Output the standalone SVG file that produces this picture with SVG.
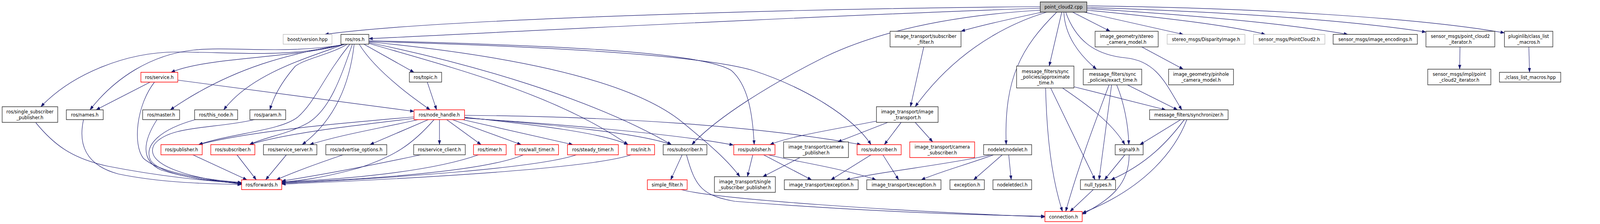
<svg xmlns="http://www.w3.org/2000/svg" width="4359" height="573" viewBox="0 0 4359 573">
<defs>
<marker id="arr" markerUnits="userSpaceOnUse" markerWidth="11" markerHeight="8" viewBox="0 0 11 8" refX="11" refY="4" orient="auto">
<path d="M0,0 L11,4 L0,8 z" fill="#191970" stroke="#191970" stroke-width="0.5"/>
</marker>
</defs>
<style>
.bg{fill:#fff}
rect{fill:#fff;stroke-width:1.5}
.n rect{stroke:#333}
.r rect{stroke:#f00}
.g rect{stroke:#bfbfbf}
.root rect{fill:#bfbfbf;stroke:#222}
text{font-family:"DejaVu Sans","Liberation Sans",sans-serif;font-size:12.5px;fill:#000;text-anchor:middle}
.e path{fill:none;stroke:#191970;stroke-width:1.2;marker-end:url(#arr)}
</style>
<rect class="bg" x="0" y="0" width="4359" height="573" style="stroke:none"/>
<g id="diagram" transform="matrix(0.91766 0 0 1 0 0)">
<g id="edges" class="e">
<path d="M2902,17 C2200,22 1200,50 906,88"/>
<path d="M2902,21 C2300,40 1500,78 1029,99"/>
<path d="M2902,26 C2650,40 2450,80 2300,146 C2150,215 2000,300 1930,370"/>
<path d="M2908,31 C2820,48 2740,64 2681,80"/>
<path d="M2920,31 C2780,70 2650,150 2553,273"/>
<path d="M2948,31 C2850,120 2800,200 2807,370"/>
<path d="M2962,31 L2927,169"/>
<path d="M2968,31 C2970,90 3010,140 3059,177"/>
<path d="M2973,31 C3000,100 3050,140 3140,148 C3230,156 3255,220 3297,281"/>
<path d="M2992,31 L3097,80"/>
<path d="M3024,31 L3301,88"/>
<path d="M3032,26 C3250,45 3430,65 3530,88"/>
<path d="M3032,22 C3350,40 3600,62 3760,88"/>
<path d="M3032,19 C3400,30 3750,50 3978,82"/>
<path d="M3032,15 C3500,20 3950,45 4197,84"/>
<path d="M962,113 C800,150 650,133 493,133 C350,133 200,190 114,273"/>
<path d="M966,113 C800,140 650,118 540,128 C420,140 320,200 251,281"/>
<path d="M962,113 C820,150 580,145 477,185"/>
<path d="M965,113 C820,135 650,170 475,281"/>
<path d="M962,113 C850,150 700,190 624,281"/>
<path d="M969,113 C920,140 850,150 823,170 C795,200 765,240 753,281"/>
<path d="M976,113 C900,200 880,260 830,300 C780,335 650,340 554,370"/>
<path d="M983,113 C950,200 920,280 860,314 C800,345 740,350 696,370"/>
<path d="M988,113 C975,220 930,310 843,370"/>
<path d="M1015,113 L1155,185"/>
<path d="M1002,113 C1040,170 1120,230 1200,281"/>
<path d="M1029,111 C1250,170 1550,240 1752,370"/>
<path d="M1029,109 C1300,160 1650,250 1873,370"/>
<path d="M1029,107 C1400,140 1750,200 1900,310 C1980,370 2030,410 2064,452"/>
<path d="M1029,104 C1500,115 1950,130 2040,180 C2090,220 2100,300 2104,370"/>
<path d="M1029,106 C1500,118 1950,140 2100,180 C2250,225 2380,300 2430,370"/>
<path d="M1155,299 C950,315 700,335 554,370"/>
<path d="M1155,303 C1000,320 800,340 696,370"/>
<path d="M1167,306 C1050,330 950,345 864,370"/>
<path d="M1195,306 L1032,370"/>
<path d="M1211,306 C1150,370 1100,400 1000,430 C900,455 840,462 786,466"/>
<path d="M1226,306 L1226,370"/>
<path d="M1246,306 L1342,370"/>
<path d="M1262,306 L1454,370"/>
<path d="M1290,306 L1598,370"/>
<path d="M1296,300 C1500,320 1680,340 1752,370"/>
<path d="M1296,301 C1550,320 1780,340 1873,370"/>
<path d="M1296,302 C1600,320 1900,345 2046,371"/>
<path d="M1296,295 C1700,298 2100,320 2402,370"/>
<path d="M419,210 L268,281"/>
<path d="M496,205 L1155,285"/>
<path d="M431,210 C380,270 370,370 400,405 C450,445 580,460 674,467"/>
<path d="M1192,210 L1218,281"/>
<path d="M100,314 C150,370 200,405 300,425 C450,452 570,462 674,469"/>
<path d="M233,306 C220,360 230,420 330,445 C450,468 580,470 674,472"/>
<path d="M438,306 C400,360 390,410 450,435 C530,458 600,463 674,468"/>
<path d="M545,306 C450,330 400,370 420,410 C450,450 580,462 674,470"/>
<path d="M710,306 C600,330 470,320 430,370 C400,420 520,455 674,471"/>
<path d="M538,396 L689,460"/>
<path d="M661,396 L715,460"/>
<path d="M799,396 L741,460"/>
<path d="M957,396 C880,420 820,440 771,460"/>
<path d="M1174,396 C1000,430 880,450 786,463"/>
<path d="M1335,396 C1200,440 950,460 786,465"/>
<path d="M1460,396 C1350,440 1000,460 786,467"/>
<path d="M1608,396 C1500,430 1100,455 786,469"/>
<path d="M1761,396 C1650,430 1200,455 786,471"/>
<path d="M1903,396 L1871,460"/>
<path d="M1915,396 C1940,480 1960,500 2050,515 C2400,540 2700,550 2915,553"/>
<path d="M1900,485 C2000,510 2500,540 2915,555"/>
<path d="M2577,120 L2540,273"/>
<path d="M2445,310 C2300,335 2200,350 2148,370"/>
<path d="M2477,313 L2337,363"/>
<path d="M2514,313 L2467,370"/>
<path d="M2553,313 L2602,363"/>
<path d="M2232,403 L2128,452"/>
<path d="M2100,396 L2085,452"/>
<path d="M2130,396 L2264,460"/>
<path d="M2143,396 C2200,410 2350,430 2444,460"/>
<path d="M2430,396 L2318,460"/>
<path d="M2463,396 L2507,460"/>
<path d="M2765,396 C2650,420 2450,440 2360,460"/>
<path d="M2772,396 C2700,420 2620,440 2570,460"/>
<path d="M2796,396 L2716,460"/>
<path d="M2814,396 L2821,460"/>
<path d="M2996,222 L3252,281"/>
<path d="M2964,225 C3020,260 3100,310 3138,370"/>
<path d="M2931,225 L3055,460"/>
<path d="M2917,225 C2920,350 2935,460 2964,541"/>
<path d="M3145,217 L3285,281"/>
<path d="M3115,217 C3135,260 3148,320 3149,370"/>
<path d="M3101,217 L3066,460"/>
<path d="M3094,217 C3060,300 3010,420 2973,541"/>
<path d="M3185,120 L3301,177"/>
<path d="M3294,306 L3180,370"/>
<path d="M3304,306 C3260,360 3200,420 3099,460"/>
<path d="M3311,306 C3280,380 3200,480 3019,545"/>
<path d="M3138,396 L3081,460"/>
<path d="M3150,396 C3150,470 3100,510 3019,548"/>
<path d="M3050,485 L2985,541"/>
<path d="M4073,120 L4072,177"/>
<path d="M4265,120 L4267,185"/>
</g>
<g id="n0" class="root"><rect x="2902" y="5" width="130" height="26"/><text x="2967" y="22.5">point_cloud2.cpp</text></g>
<g id="n1" class="g"><rect x="790" y="88" width="136" height="25"/><text x="858" y="105">boost/version.hpp</text></g>
<g id="n2" class="n"><rect x="951" y="88" width="78" height="25"/><text x="990" y="105">ros/ros.h</text></g>
<g id="n3" class="n"><rect x="6" y="273" width="155" height="40"/><text x="83.5" y="290">ros/single_subscriber</text><text x="83.5" y="305">_publisher.h</text></g>
<g id="n4" class="n"><rect x="185" y="281" width="103" height="25"/><text x="236.5" y="298">ros/names.h</text></g>
<g id="n5" class="r"><rect x="393" y="185" width="103" height="25"/><text x="444.5" y="202">ros/service.h</text></g>
<g id="n6" class="n"><rect x="398" y="281" width="103" height="25"/><text x="449.5" y="298">ros/master.h</text></g>
<g id="n7" class="n"><rect x="543" y="281" width="120" height="25"/><text x="603" y="298">ros/this_node.h</text></g>
<g id="n8" class="n"><rect x="697" y="281" width="100" height="25"/><text x="747" y="298">ros/param.h</text></g>
<g id="n9" class="r"><rect x="449" y="370" width="115" height="26"/><text x="506.5" y="387.5">ros/publisher.h</text></g>
<g id="n10" class="r"><rect x="588" y="370" width="123" height="26"/><text x="649.5" y="387.5">ros/subscriber.h</text></g>
<g id="n11" class="r"><rect x="674" y="460" width="112" height="25"/><text x="730" y="477">ros/forwards.h</text></g>
<g id="n12" class="n"><rect x="1142" y="185" width="90" height="25"/><text x="1187" y="202">ros/topic.h</text></g>
<g id="n13" class="r"><rect x="1155" y="281" width="141" height="25"/><text x="1225.5" y="298">ros/node_handle.h</text></g>
<g id="n14" class="n"><rect x="735" y="370" width="149" height="26"/><text x="809.5" y="387.5">ros/service_server.h</text></g>
<g id="n15" class="n"><rect x="909" y="370" width="170" height="26"/><text x="994" y="387.5">ros/advertise_options.h</text></g>
<g id="n16" class="n"><rect x="1154" y="370" width="144" height="26"/><text x="1226" y="387.5">ros/service_client.h</text></g>
<g id="n17" class="r"><rect x="1321" y="370" width="91" height="26"/><text x="1366.5" y="387.5">ros/timer.h</text></g>
<g id="n18" class="r"><rect x="1437" y="370" width="121" height="26"/><text x="1497.5" y="387.5">ros/wall_timer.h</text></g>
<g id="n19" class="r"><rect x="1583" y="370" width="142" height="26"/><text x="1654" y="387.5">ros/steady_timer.h</text></g>
<g id="n20" class="r"><rect x="1749" y="370" width="77" height="26"/><text x="1787.5" y="387.5">ros/init.h</text></g>
<g id="n21" class="n"><rect x="1850" y="370" width="122" height="26"/><text x="1911" y="387.5">ros/subscriber.h</text></g>
<g id="n22" class="r"><rect x="2047" y="370" width="115" height="26"/><text x="2104.5" y="387.5">ros/publisher.h</text></g>
<g id="n23" class="r"><rect x="1806" y="460" width="111" height="25"/><text x="1861.5" y="477">simple_filter.h</text></g>
<g id="n24" class="n"><rect x="1993" y="452" width="170" height="40"/><text x="2078" y="469">image_transport/single</text><text x="2078" y="484">_subscriber_publisher.h</text></g>
<g id="n25" class="n"><rect x="2483" y="80" width="198" height="40"/><text x="2582" y="97">image_transport/subscriber</text><text x="2582" y="112">_filter.h</text></g>
<g id="n26" class="n"><rect x="2445" y="273" width="172" height="40"/><text x="2531" y="290">image_transport/image</text><text x="2531" y="305">_transport.h</text></g>
<g id="n27" class="n"><rect x="2186" y="363" width="181" height="40"/><text x="2276.5" y="380">image_transport/camera</text><text x="2276.5" y="395">_publisher.h</text></g>
<g id="n28" class="r"><rect x="2391" y="370" width="123" height="26"/><text x="2452.5" y="387.5">ros/subscriber.h</text></g>
<g id="n29" class="r"><rect x="2538" y="363" width="181" height="40"/><text x="2628.5" y="380">image_transport/camera</text><text x="2628.5" y="395">_subscriber.h</text></g>
<g id="n30" class="n"><rect x="2744" y="370" width="134" height="26"/><text x="2811" y="387.5">nodelet/nodelet.h</text></g>
<g id="n31" class="n"><rect x="2188" y="460" width="206" height="25"/><text x="2291" y="477">image_transport/exception.h</text></g>
<g id="n32" class="n"><rect x="2418" y="460" width="207" height="25"/><text x="2521.5" y="477">image_transport/exception.h</text></g>
<g id="n33" class="n"><rect x="2650" y="460" width="96" height="25"/><text x="2698" y="477">exception.h</text></g>
<g id="n34" class="n"><rect x="2770" y="460" width="108" height="25"/><text x="2824" y="477">nodeletdecl.h</text></g>
<g id="n35" class="n"><rect x="2836" y="169" width="160" height="56"/><text x="2916" y="187">message_filters/sync</text><text x="2916" y="201.5">_policies/approximate</text><text x="2916" y="216">_time.h</text></g>
<g id="n36" class="n"><rect x="3055" y="80" width="176" height="40"/><text x="3143" y="97">image_geometry/stereo</text><text x="3143" y="112">_camera_model.h</text></g>
<g id="n37" class="g"><rect x="3256" y="88" width="217" height="25"/><text x="3364.5" y="105">stereo_msgs/DisparityImage.h</text></g>
<g id="n38" class="g"><rect x="3497" y="88" width="199" height="25"/><text x="3596.5" y="105">sensor_msgs/PointCloud2.h</text></g>
<g id="n39" class="n"><rect x="3022" y="177" width="163" height="40"/><text x="3103.5" y="194">message_filters/sync</text><text x="3103.5" y="209">_policies/exact_time.h</text></g>
<g id="n40" class="n"><rect x="3260" y="177" width="181" height="40"/><text x="3350.5" y="194">image_geometry/pinhole</text><text x="3350.5" y="209">_camera_model.h</text></g>
<g id="n41" class="n"><rect x="3207" y="281" width="219" height="25"/><text x="3316.5" y="298">message_filters/synchronizer.h</text></g>
<g id="n42" class="n"><rect x="3111" y="370" width="78" height="26"/><text x="3150" y="387.5">signal9.h</text></g>
<g id="n43" class="n"><rect x="3014" y="460" width="98" height="25"/><text x="3063" y="477">null_types.h</text></g>
<g id="n44" class="r"><rect x="2915" y="541" width="104" height="26"/><text x="2967" y="558.5">connection.h</text></g>
<g id="n45" class="n"><rect x="3719" y="88" width="235" height="25"/><text x="3836.5" y="105">sensor_msgs/image_encodings.h</text></g>
<g id="n46" class="n"><rect x="3978" y="80" width="192" height="40"/><text x="4074" y="97">sensor_msgs/point_cloud2</text><text x="4074" y="112">_iterator.h</text></g>
<g id="n47" class="n"><rect x="4197" y="80" width="135" height="40"/><text x="4264.5" y="97">pluginlib/class_list</text><text x="4264.5" y="112">_macros.h</text></g>
<g id="n48" class="n"><rect x="3983" y="177" width="176" height="40"/><text x="4071" y="194">sensor_msgs/impl/point</text><text x="4071" y="209">_cloud2_iterator.h</text></g>
<g id="n49" class="n"><rect x="4183" y="185" width="171" height="25"/><text x="4268.5" y="202">./class_list_macros.hpp</text></g>
</g>
</svg>
